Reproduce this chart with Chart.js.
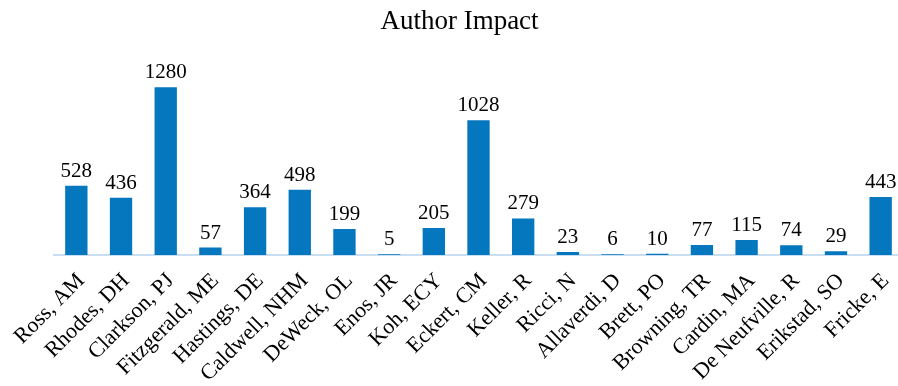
<!DOCTYPE html>
<html>
<head>
<meta charset="utf-8">
<script src="https://cdn.jsdelivr.net/npm/chart.js@4/dist/chart.umd.min.js"></script>
<style>
  html, body { margin: 0; padding: 0; background: #fff; overflow: hidden; }
  #wrap { width: 898px; height: 386px; overflow: hidden; }
</style>
</head>
<body>
<!-- canvas is a few px wider than the frame so the plot runs past the right edge -->
<div id="wrap"><canvas id="impact-chart" width="903" height="386"></canvas></div>
<script>
var authorNames = ['Ross, AM', 'Rhodes, DH', 'Clarkson, PJ', 'Fitzgerald, ME', 'Hastings, DE',
  'Caldwell, NHM', 'DeWeck, OL', 'Enos, JR', 'Koh, ECY', 'Eckert, CM', 'Keller, R', 'Ricci, N',
  'Allaverdi, D', 'Brett, PO', 'Browning, TR', 'Cardin, MA', 'De Neufville, R', 'Erikstad, SO', 'Fricke, E'];
var impactValues = [528, 436, 1280, 57, 364, 498, 199, 5, 205, 1028, 279, 23, 6, 10, 77, 115, 74, 29, 443];
var chartTitle = 'Author Impact';

var serif = '"Liberation Serif", "Times New Roman", serif';

// writes each bar's value just above it
var valueLabels = {
  id: 'valueLabels',
  afterDatasetsDraw: function(chart) {
    var ctx = chart.ctx;
    var meta = chart.getDatasetMeta(0);
    ctx.save();
    ctx.font = '21px ' + serif;
    ctx.fillStyle = '#000';
    ctx.textAlign = 'center';
    ctx.textBaseline = 'alphabetic';
    for (var i = 0; i < meta.data.length; i++) {
      var bar = meta.data[i];
      ctx.fillText(String(impactValues[i]), bar.x, bar.y - 9);
    }
    ctx.restore();
  }
};

var impactChart = new Chart(document.getElementById('impact-chart').getContext('2d'), {
  type: 'bar',
  data: {
    labels: authorNames,
    datasets: [{
      data: impactValues,
      backgroundColor: '#0477bf',
      categoryPercentage: 1,
      barPercentage: 0.5
    }]
  },
  options: {
    responsive: false,
    animation: false,
    layout: { padding: { left: 16, right: 0, top: 0, bottom: 0 } },
    plugins: {
      legend: { display: false },
      tooltip: { enabled: false },
      title: {
        display: true,
        text: chartTitle,
        color: '#000',
        font: { family: serif, size: 27, weight: 'normal' },
        padding: { top: 6, bottom: 33 }
      }
    },
    scales: {
      x: {
        grid: { display: false, drawTicks: false },
        border: { color: '#c9def2', width: 2 },
        ticks: {
          color: '#000',
          font: { family: serif, size: 22 },
          minRotation: 45,
          maxRotation: 45,
          autoSkip: false,
          labelOffset: 5,
          padding: 13
        },
        afterFit: function(scale) {
          scale.height = 131;
          // no extra side room for the slanted labels
          scale.paddingLeft = 0;
          scale.paddingRight = 0;
        }
      },
      y: {
        min: 0,
        max: 1400,
        grid: { display: false, drawTicks: false },
        border: { display: false },
        ticks: { display: false },
        afterFit: function(scale) { scale.width = 38; }
      }
    }
  },
  plugins: [valueLabels]
});
</script>
</body>
</html>
